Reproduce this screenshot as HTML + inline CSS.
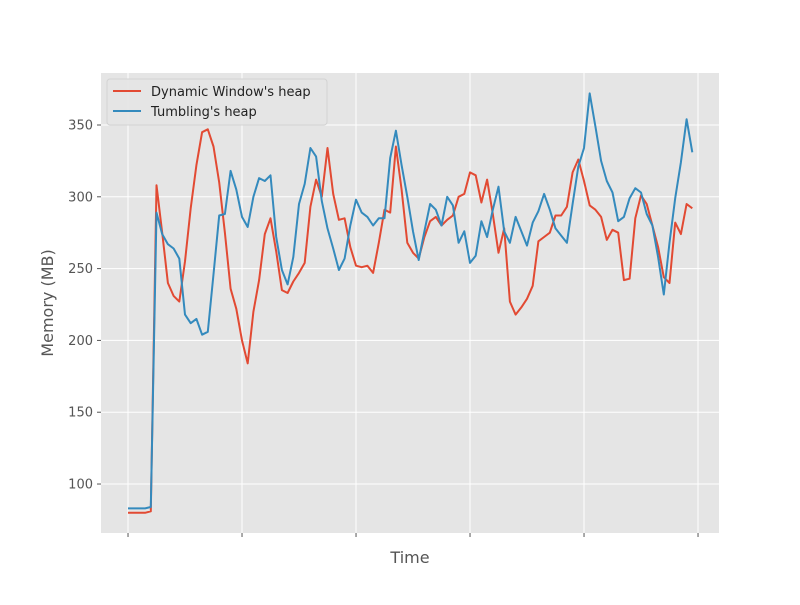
<!DOCTYPE html>
<html><head><meta charset="utf-8"><style>
body{margin:0;background:#fff;font-family:"Liberation Sans","DejaVu Sans",sans-serif}
svg text{font-family:"DejaVu Sans","Liberation Sans",sans-serif}
</style></head><body>
<svg id="chart" width="800" height="600" xmlns="http://www.w3.org/2000/svg">
<rect x="101" y="73" width="618" height="460" fill="#e5e5e5"/>
<g id="grid"></g>
<g id="series"></g>
<g id="ticks"></g>
<text x="410" y="563" font-size="16" fill="#555" text-anchor="middle">Time</text>
<text transform="translate(53,303) rotate(-90)" font-size="16" fill="#555" text-anchor="middle">Memory (MB)</text>
<g>
<rect x="107" y="79" width="220" height="46" rx="3" fill="#e5e5e5" stroke="#d0d0d0" opacity="0.9"/>
<line x1="113" y1="91" x2="141" y2="91" stroke="#e24a33" stroke-width="2"/>
<text x="151" y="96" font-size="13" fill="#222">Dynamic Window's heap</text>
<line x1="113" y1="111" x2="141" y2="111" stroke="#348abd" stroke-width="2"/>
<text x="151" y="116" font-size="13" fill="#222">Tumbling's heap</text>
</g>
</svg>
<script>
const dynamicHeap=[80,80,80,80,81,308,275,240,231,227,255,292,322,345,347,335,310,275,236,222,200,184,220,242,274,285,262,235,233,241,247,254,293,312,300,334,302,284,285,265,252,251,252,247,268,291,289,335,305,268,261,257,272,283,286,280,284,287,300,302,317,315,296,312,288,261,278,227,218,223,229,238,269,272,275,287,287,293,317,326,311,294,291,286,270,277,275,242,243,285,301,295,280,265,244,240,282,274,295,292];
const tumblingHeap=[83,83,83,83,84,289,274,267,264,257,218,212,215,204,206,246,287,288,318,305,286,279,300,313,311,315,272,249,239,258,295,309,334,328,297,278,264,249,257,280,298,289,286,280,285,285,327,346,322,300,276,256,276,295,291,280,300,294,268,276,254,259,283,272,291,307,276,268,286,276,266,282,290,302,291,278,273,268,295,321,334,372,349,325,311,303,283,286,299,306,303,288,280,258,232,268,299,324,354,331];
const yTicks=[100,150,200,250,300,350];
const xTicks=[0,20,40,60,80,100];
const NS="http://www.w3.org/2000/svg";
const X0=101,X1=719,Y0=533,Y1=73,xmin=-4.74,xmax=103.68,ymin=65.9,ymax=386.2;
function xs(i){return X0+(i-xmin)/(xmax-xmin)*(X1-X0);}
function ys(v){return Y0-(v-ymin)/(ymax-ymin)*(Y0-Y1);}
const grid=document.getElementById('grid'),ticks=document.getElementById('ticks'),ser=document.getElementById('series');
yTicks.forEach(v=>{
 const l=document.createElementNS(NS,'line');
 
 
 l.setAttribute('x1',X0);l.setAttribute('x2',X1);l.setAttribute('y1',ys(v));l.setAttribute('y2',ys(v));
 l.setAttribute('stroke','#fff');l.setAttribute('stroke-width','1');grid.appendChild(l);
 const tk=document.createElementNS(NS,'line');
 
 
 tk.setAttribute('x1',X0-4);tk.setAttribute('x2',X0);tk.setAttribute('y1',ys(v));tk.setAttribute('y2',ys(v));tk.setAttribute('stroke','#555');ticks.appendChild(tk);
 const t=document.createElementNS(NS,'text');
 
 
 t.setAttribute('x',X0-8);t.setAttribute('y',ys(v)+4.5);t.setAttribute('text-anchor','end');t.setAttribute('font-size','13');t.setAttribute('fill','#555');t.textContent=v;ticks.appendChild(t);
});
xTicks.forEach(v=>{
 const l=document.createElementNS(NS,'line');
 
 
 l.setAttribute('x1',xs(v));l.setAttribute('x2',xs(v));l.setAttribute('y1',Y1);l.setAttribute('y2',Y0);
 l.setAttribute('stroke','#fff');grid.appendChild(l);
 const tk=document.createElementNS(NS,'line');
 
 
 tk.setAttribute('x1',xs(v));tk.setAttribute('x2',xs(v));tk.setAttribute('y1',Y0);tk.setAttribute('y2',Y0+4);tk.setAttribute('stroke','#555');ticks.appendChild(tk);
});
function line(data,color,name){
 const p=document.createElementNS(NS,'polyline');
 
 
 p.setAttribute('points',data.map((v,i)=>xs(i).toFixed(1)+','+ys(v).toFixed(1)).join(' '));
 p.setAttribute('fill','none');p.setAttribute('stroke',color);p.setAttribute('stroke-width','2');p.setAttribute('stroke-linejoin','round');
 ser.appendChild(p);
}
line(dynamicHeap,'#e24a33','dynamic-window-heap-line');
line(tumblingHeap,'#348abd','tumbling-heap-line');
</script>
</body></html>
